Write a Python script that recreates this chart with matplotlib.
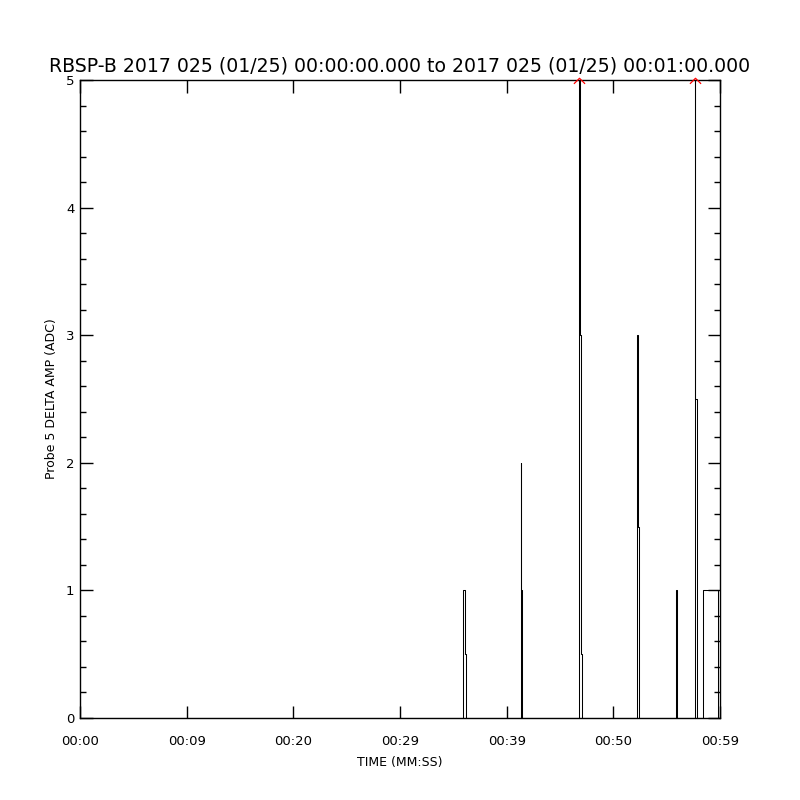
import matplotlib
matplotlib.use("Agg")
import matplotlib.pyplot as plt
from matplotlib.ticker import MultipleLocator, FixedLocator
from matplotlib.path import Path
import numpy as np

# step-series data: time (s) and value (ADC), step-post
times = [0.0, 35.93, 36.11, 36.19, 41.33, 41.37, 41.47,
         46.81, 46.85, 46.97, 47.02,
         52.25, 52.29, 52.36,
         55.85, 56.00,
         57.61, 57.70, 57.80,
         58.43, 59.84, 60.0]
values = [0, 1, 0.5, 0, 2, 1, 0,
          6, 3, 0.5, 0,
          3, 1.5, 0,
          1, 0,
          6, 2.5, 0,
          1, 0, 0]

xtick_pos = [0, 10, 20, 30, 40, 50, 60]
xtick_labels = ["00:00", "00:09", "00:20", "00:29", "00:39", "00:50", "00:59"]
ytick_pos = [0, 1, 2, 3, 4, 5]

title = "RBSP-B 2017 025 (01/25) 00:00:00.000 to 2017 025 (01/25) 00:01:00.000"

fig = plt.figure(figsize=(8, 8), dpi=100)
ax = fig.add_axes([0.1, 0.1025, 0.8, 0.7975])
ax.plot(times, values, drawstyle="steps-post", color="black", lw=0.75)

ymax = 5
clip_t = [t for t, v in zip(times, values) if v > ymax]
caret = Path([(-1, -0.6), (0, 0.4), (1, -0.6)],
             [Path.MOVETO, Path.LINETO, Path.LINETO])
ax.plot(clip_t, [ymax] * len(clip_t), linestyle="none", marker=caret,
        markerfacecolor="none", markeredgecolor="red", markeredgewidth=0.9,
        markersize=8, clip_on=False, zorder=5)

ax.set_xlim(0, 60)
ax.set_ylim(0, ymax)
ax.xaxis.set_major_locator(FixedLocator(xtick_pos))
ax.set_xticklabels(xtick_labels)
ax.yaxis.set_major_locator(FixedLocator(ytick_pos))
ax.yaxis.set_minor_locator(MultipleLocator(0.2))
ax.tick_params(axis="both", which="both", direction="in", top=True, right=True,
               width=1, color="black")
ax.tick_params(axis="both", which="major", length=9, labelsize=9.5)
ax.tick_params(axis="x", which="major", pad=12)
ax.tick_params(axis="y", which="major", pad=4)
ax.tick_params(axis="y", which="minor", length=4.5)
for s in ax.spines.values():
    s.set_linewidth(1)

ax.set_title(title, fontsize=13.6, pad=6)
ax.set_xlabel("TIME (MM:SS)", fontsize=9, labelpad=6)
ax.set_ylabel("Probe 5 DELTA AMP (ADC)", fontsize=9, labelpad=6)

fig.savefig("out.png", dpi=100, facecolor="white")
